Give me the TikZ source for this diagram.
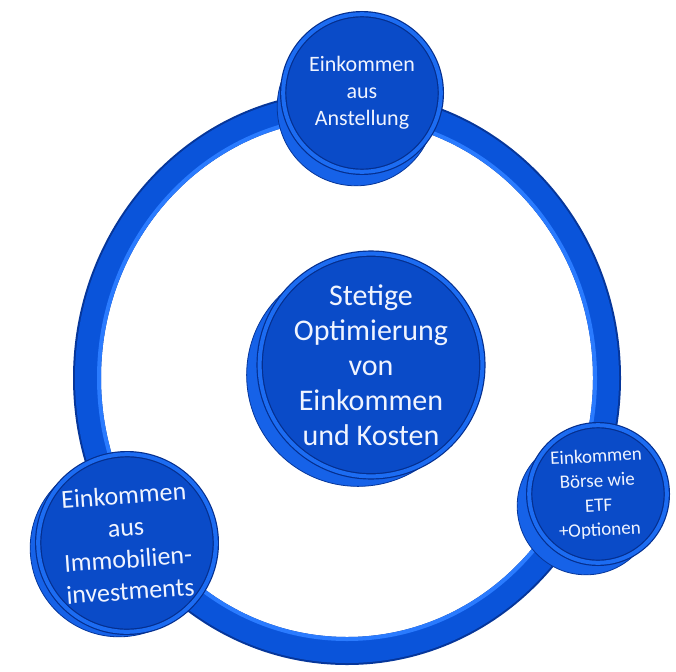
\documentclass[tikz,border=0pt]{standalone}
\usepackage{fontspec}
\setmainfont{Carlito}
\usepackage{tikz}

\definecolor{ringblue}{HTML}{0A54DA}
\definecolor{ringdark}{HTML}{06369A}
\definecolor{ringlight}{HTML}{2A7BFF}
\definecolor{faceblue}{HTML}{0A4BC8}
\definecolor{facedark}{HTML}{052F8E}
\definecolor{rimblue}{HTML}{1C6CF2}
\definecolor{extrude}{HTML}{1662E8}
\definecolor{textwhite}{HTML}{F0F4FF}

\begin{document}
\begin{tikzpicture}[x=1pt,y=-1pt,
  disc/.style={circle,inner sep=0pt,minimum size=#1,fill=faceblue,
    draw=facedark,double=rimblue,double distance=4pt,line width=1.2pt,
    text=textwhite,align=center},
  depth/.style={preaction={fill=extrude,draw=ringdark,line width=0.8pt,
    transform canvas={shift={#1}}}}]
  \useasboundingbox[fill=white] (0,0) rectangle (676,671);

  % ring behind the discs
  \coordinate (hub) at (347,378);
  \draw[ringdark,line width=28pt] (hub) ellipse [x radius=260,y radius=273];
  \draw[ringblue,line width=24pt] (hub) ellipse [x radius=260,y radius=273];
  \draw[ringlight,line width=4pt] (hub) ellipse [x radius=248,y radius=261];

  \node[disc=157.6pt,depth={(-6,14)},font=\fontsize{22}{27}\selectfont]
    (anstellung) at (362,93) {Einkommen\\aus\\Anstellung};
  \node[disc=219.6pt,depth={(-13,10)},font=\fontsize{30}{35}\selectfont]
    (optimierung) at (371,365) {Stetige\\Optimierung\\von\\Einkommen\\und Kosten};
  \node[disc=177.6pt,depth={(-8,5)},rotate=4,font=\fontsize{26}{32}\selectfont]
    (immobilien) at (127,543) {Einkommen\\aus\\Immobilien-\\investments};
  \node[disc=137.6pt,depth={(-12,12)},rotate=3,font=\fontsize{19}{24.5}\selectfont]
    (boerse) at (598,494) {Einkommen\\Börse wie\\ETF\\+Optionen};
\end{tikzpicture}
\end{document}
